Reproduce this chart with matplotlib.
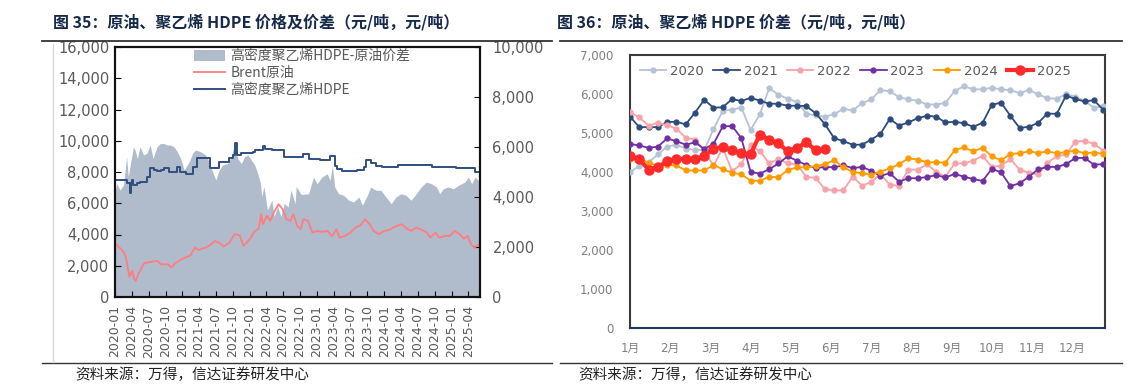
import numpy as np
import pandas as pd
import matplotlib
matplotlib.use('Agg')
import matplotlib.pyplot as plt
import matplotlib.dates as mdates
from matplotlib.patches import Patch
from matplotlib.lines import Line2D
from matplotlib.ticker import FuncFormatter

plt.rcParams['font.family'] = ['DejaVu Sans', 'Noto Sans CJK SC']
plt.rcParams['axes.unicode_minus'] = False
CJK = ['Noto Sans CJK SC', 'DejaVu Sans']

# ---------------- 图35 data (元/吨) ----------------
hdpe_dates = ['2020-01-01', '2020-02-25', '2020-03-04', '2020-03-22', '2020-03-28', '2020-04-04',
              '2020-04-10', '2020-04-28', '2020-05-16', '2020-06-22', '2020-07-10', '2020-07-28',
              '2020-08-16', '2020-09-04', '2020-09-22', '2020-10-19', '2020-12-01', '2020-12-19',
              '2021-01-19', '2021-02-19', '2021-03-01', '2021-03-22', '2021-06-01', '2021-07-19',
              '2021-09-13', '2021-10-01', '2021-10-13', '2021-10-25', '2021-11-16', '2022-01-16',
              '2022-02-01', '2022-03-13', '2022-03-22', '2022-05-01', '2022-07-07', '2022-10-19',
              '2022-11-16', '2023-01-19', '2023-03-13', '2023-04-07', '2023-04-19', '2023-05-16',
              '2023-08-07', '2023-09-13', '2023-09-22', '2023-10-19', '2023-11-16', '2023-12-22',
              '2024-03-13', '2024-09-13', '2025-01-25', '2025-05-07', '2025-06-03']
hdpe_vals = [7490, 7490, 7280, 6640, 7280, 7500,
             7170, 7280, 7380, 7700, 8230, 8130,
             8080, 8130, 8230, 8020, 8300, 8020,
             7870, 7900, 8340, 8870, 8230, 8660,
             8870, 9100, 9830, 9090, 9230, 9300,
             9400, 9660, 9450, 9400, 8950, 9130,
             8860, 8750, 9000, 8370, 8220, 8050,
             8150, 8320, 8750, 8600, 8370, 8320,
             8430, 8330, 8280, 7980, 7940]

brent_dates = ['2020-01-01', '2020-01-16', '2020-02-04', '2020-02-19', '2020-03-01', '2020-03-10',
               '2020-03-19', '2020-04-04', '2020-04-13', '2020-04-22', '2020-05-10', '2020-05-25',
               '2020-06-07', '2020-07-10', '2020-08-19', '2020-09-07', '2020-10-16', '2020-11-01',
               '2020-11-25', '2021-01-04', '2021-02-13', '2021-03-10', '2021-03-28', '2021-05-07',
               '2021-06-07', '2021-06-25', '2021-07-25', '2021-08-13', '2021-09-13', '2021-10-10',
               '2021-11-07', '2021-11-28', '2021-12-19', '2022-01-07', '2022-01-25', '2022-02-19',
               '2022-03-04', '2022-03-13', '2022-04-04', '2022-04-22', '2022-05-16', '2022-06-07',
               '2022-06-28', '2022-07-19', '2022-08-10', '2022-08-25', '2022-09-16', '2022-10-04',
               '2022-10-19', '2022-11-13', '2022-12-07', '2023-01-01', '2023-01-28', '2023-02-28',
               '2023-03-22', '2023-04-16', '2023-05-04', '2023-06-01', '2023-07-01', '2023-07-28',
               '2023-08-25', '2023-09-19', '2023-10-13', '2023-11-04', '2023-12-01', '2024-01-01',
               '2024-01-28', '2024-03-07', '2024-04-04', '2024-05-01', '2024-05-25', '2024-06-22',
               '2024-07-22', '2024-08-19', '2024-09-07', '2024-10-04', '2024-10-25', '2024-11-25',
               '2024-12-22', '2025-01-16', '2025-02-13', '2025-03-07', '2025-03-28', '2025-04-16',
               '2025-05-04', '2025-05-30']
brent_vals = [3480, 3270, 3050, 2840, 2520, 1880,
              1300, 1670, 1180, 1025, 1560, 1880,
              2160, 2240, 2310, 2090, 2090, 1880,
              2200, 2460, 2670, 3160, 3010, 3160,
              3380, 3590, 3420, 3230, 3480, 4020,
              3950, 3270, 3530, 3800, 4170, 4380,
              5300, 4660, 5190, 4870, 5510, 5940,
              5620, 4980, 4870, 5300, 4550, 4340,
              4980, 4870, 4120, 4230, 4170, 4230,
              3870, 4340, 3800, 3910, 4120, 4440,
              4590, 4980, 4660, 4230, 4020, 4230,
              4300, 4550, 4660, 4380, 4230, 4440,
              4300, 4120, 3800, 4120, 3800, 3910,
              3910, 4230, 4020, 3740, 3910, 3380,
              3160, 3380]

spread_dates = ['2020-01-01', '2020-01-10', '2020-01-28', '2020-02-16', '2020-03-04', '2020-03-13',
                '2020-03-25', '2020-04-10', '2020-04-19', '2020-05-01', '2020-05-16', '2020-06-04',
                '2020-06-22', '2020-07-10', '2020-07-25', '2020-08-16', '2020-09-04', '2020-09-22',
                '2020-10-10', '2020-10-28', '2020-11-16', '2020-12-04', '2020-12-22', '2021-01-10',
                '2021-02-07', '2021-02-25', '2021-03-13', '2021-04-10', '2021-05-07', '2021-05-25',
                '2021-06-13', '2021-07-01', '2021-07-19', '2021-08-07', '2021-09-04', '2021-09-22',
                '2021-10-10', '2021-10-28', '2021-11-16', '2021-12-04', '2021-12-22', '2022-01-10',
                '2022-01-28', '2022-02-13', '2022-02-28', '2022-03-07', '2022-03-19', '2022-04-07',
                '2022-05-01', '2022-05-13', '2022-06-01', '2022-06-19', '2022-07-07', '2022-07-28',
                '2022-08-13', '2022-09-04', '2022-09-10', '2022-10-07', '2022-11-16', '2022-12-13',
                '2023-01-01', '2023-01-28', '2023-02-25', '2023-03-13', '2023-03-25', '2023-04-07',
                '2023-04-28', '2023-05-25', '2023-06-22', '2023-07-19', '2023-08-16', '2023-09-04',
                '2023-10-01', '2023-10-19', '2023-11-16', '2023-12-13', '2024-01-10', '2024-02-07',
                '2024-03-04', '2024-04-01', '2024-04-28', '2024-05-25', '2024-06-22', '2024-07-19',
                '2024-08-16', '2024-09-13', '2024-10-10', '2024-10-28', '2024-11-16', '2024-12-13',
                '2025-01-10', '2025-02-07', '2025-03-13', '2025-04-01', '2025-04-19', '2025-05-07',
                '2025-06-03']
spread_vals = [4150, 4550, 4280, 4480, 5610, 4810,
               5340, 6010, 5880, 5540, 6010, 5680,
               5750, 6080, 5540, 6010, 6140, 6140,
               6080, 6080, 6010, 5810, 5540, 5080,
               5410, 5750, 5880, 5810, 5680, 5410,
               5010, 4680, 5080, 5280, 5340, 5610,
               6080, 5540, 5340, 5610, 5680, 5470,
               5280, 4950, 4550, 4020, 4420, 3480,
               3880, 3220, 3620, 3220, 3750, 3600,
               4280, 3730, 4420, 4100, 4130, 4800,
               4530, 4800, 4930, 4670, 5270, 4400,
               4130, 4070, 3870, 3800, 4000, 3670,
               4070, 4400, 4270, 4270, 4000, 3730,
               4000, 4130, 4070, 3870, 4130, 4400,
               4600, 4530, 4400, 4130, 4330, 4400,
               4330, 4470, 4600, 4800, 4530, 4800,
               4600]

# ---------------- 图36 data: weekly spread by year ----------------
years = ['2020', '2021', '2022', '2023', '2024', '2025']
spread_2020 = [4000, 4150, 4250, 4450, 4650, 4700, 4600, 4570, 4560, 5100, 5570, 5600, 5650,
               5080, 5480, 6150, 5980, 5880, 5800, 5500, 5450, 5420, 5480, 5620, 5580, 5760,
               5860, 6100, 6070, 5920, 5860, 5830, 5730, 5730, 5770, 6080, 6200, 6120, 6120,
               6160, 6120, 6100, 6020, 6100, 5990, 5890, 5880, 6000, 5930, 5820, 5650, 5680]
spread_2021 = [5420, 5150, 5150, 5150, 5280, 5290, 5220, 5520, 5850, 5650, 5660, 5870, 5820,
               5900, 5830, 5750, 5750, 5700, 5700, 5690, 5510, 5230, 4870, 4790, 4700, 4700,
               4830, 4980, 5360, 5190, 5270, 5380, 5440, 5420, 5270, 5290, 5250, 5160, 5260,
               5720, 5780, 5440, 5130, 5160, 5260, 5500, 5490, 5960, 5870, 5810, 5840, 5600]
spread_2022 = [5530, 5400, 5190, 5260, 5200, 5110, 4880, 4830, 4560, 4150, 4620, 4020, 4200,
               4680, 4540, 4220, 4330, 4220, 4200, 3870, 3850, 3560, 3530, 3530, 3880, 3650,
               3740, 3950, 3670, 3650, 4060, 4060, 4200, 4000, 3880, 4220, 4220, 4290, 4420,
               4130, 4160, 4330, 4060, 3980, 3940, 4240, 4400, 4450, 4780, 4800, 4720, 4550]
spread_2023 = [4720, 4680, 4620, 4650, 4860, 4790, 4700, 4760, 4590, 4720, 5170, 5180, 4870,
               4000, 3960, 4070, 4220, 4400, 4290, 4180, 4100, 4130, 4120, 4170, 4100, 4130,
               4030, 3900, 3970, 3750, 3840, 3840, 3870, 3920, 3860, 3950, 3880, 3820, 3770,
               4080, 3990, 3640, 3710, 3880, 4070, 4130, 4130, 4200, 4360, 4360, 4190, 4200]
spread_2024 = [4330, 4360, 4230, 4160, 4180, 4170, 4040, 4040, 4040, 4180, 4070, 3980, 3940,
               3780, 3770, 3880, 3860, 4050, 4120, 4120, 4150, 4200, 4300, 4120, 4000, 3970,
               3930, 4010, 4090, 4200, 4350, 4320, 4250, 4250, 4240, 4560, 4630, 4530, 4620,
               4400, 4300, 4460, 4480, 4530, 4490, 4530, 4480, 4510, 4550, 4480, 4500, 4470]
spread_2025 = [4400, 4330, 4060, 4130, 4270, 4340, 4330, 4330, 4400, 4600, 4640, 4560, 4480,
               4460, 4960, 4830, 4740, 4530, 4620, 4760, 4560, 4590]
month_labels = ['1月', '2月', '3月', '4月', '5月', '6月', '7月', '8月', '9月', '10月', '11月', '12月']

year_series = [spread_2020, spread_2021, spread_2022, spread_2023, spread_2024, spread_2025]
year_colors = ['#b6c2d6', '#2f4b7c', '#f8a3aa', '#7030a0', '#ff9a00', '#ff2b2b']

W, H = 1137, 386
fig = plt.figure(figsize=(W / 100, H / 100), dpi=100)
fig.patch.set_facecolor('white')

def px(x0, y0, x1, y1):
    return [x0 / W, 1 - y1 / H, (x1 - x0) / W, (y1 - y0) / H]

comma = FuncFormatter(lambda v, p: '{:,.0f}'.format(v))

# decorations: titles, rules, sources
title_kw = dict(fontsize=11.5, fontweight='bold', color='#17294a', family=CJK, va='center')
fig.text(53 / W, 1 - 22 / H, '图 35：原油、聚乙烯 HDPE 价格及价差（元/吨，元/吨）', **title_kw)
fig.text(557 / W, 1 - 22 / H, '图 36：原油、聚乙烯 HDPE 价差（元/吨，元/吨）', **title_kw)
for xa, xb in [(42, 552), (560, 1122)]:
    fig.add_artist(Line2D([xa / W, xb / W], [1 - 41 / H] * 2, color='#333333', lw=1.3))
    fig.add_artist(Line2D([xa / W, xb / W], [1 - 363 / H] * 2, color='#333333', lw=1.0))
fig.add_artist(Line2D([53 / W] * 2, [1 - 44 / H, 1 - 362 / H], color='#d9d9d9', lw=1.0))
src_kw = dict(fontsize=10.5, color='#222222', family=CJK, va='center')
fig.text(75 / W, 1 - 375 / H, '资料来源：万得，信达证券研发中心', **src_kw)
fig.text(578 / W, 1 - 375 / H, '资料来源：万得，信达证券研发中心', **src_kw)

# ---------------- 图35 ----------------
ax1 = fig.add_axes(px(115, 47, 480, 297))
ax1b = ax1.twinx()
ax1b.fill_between(pd.to_datetime(spread_dates), 0, spread_vals, color='#b0bbcc', lw=0)
ax1.step(pd.to_datetime(hdpe_dates), hdpe_vals, where='post', color='#2f4f7f', lw=1.4)
ax1.plot(pd.to_datetime(brent_dates), brent_vals, color='#ff7c80', lw=1.3)
ax1.set_zorder(ax1b.get_zorder() + 1)
ax1.patch.set_visible(False)

ax1.set_xlim(pd.Timestamp('2020-01-01'), pd.Timestamp('2025-06-03'))
ax1.set_ylim(0, 16000)
ax1b.set_ylim(0, 10000)
ax1.set_yticks(range(0, 16001, 2000))
ax1b.set_yticks(range(0, 10001, 2000))
ax1.yaxis.set_major_formatter(comma)
ax1b.yaxis.set_major_formatter(comma)
ax1.xaxis.set_major_locator(mdates.MonthLocator(bymonth=[1, 4, 7, 10]))
ax1.xaxis.set_major_formatter(mdates.DateFormatter('%Y-%m'))
ax1.tick_params(axis='x', direction='in', length=4, labelsize=9, labelcolor='#595959',
                labelrotation=90, pad=6)
ax1.tick_params(axis='y', direction='in', length=4, labelsize=10.5, labelcolor='#595959', pad=4)
ax1b.tick_params(axis='y', direction='in', length=4, labelsize=10.5, labelcolor='#595959', pad=9)
for a in (ax1, ax1b):
    for s in a.spines.values():
        s.set_color('#111111')
        s.set_linewidth(1.5)

handles = [Patch(facecolor='#b0bbcc', edgecolor='none'),
           Line2D([], [], color='#ff7c80', lw=1.3),
           Line2D([], [], color='#2f4f7f', lw=1.4)]
labels = ['高密度聚乙烯HDPE-原油价差', 'Brent原油', '高密度聚乙烯HDPE']
ax1.legend(handles, labels, loc='upper left', bbox_to_anchor=(0.19, 1.03), frameon=False,
           prop={'family': CJK, 'size': 10}, labelcolor='#595959', handlelength=2.2,
           handleheight=0.8, handletextpad=0.4, labelspacing=0.2, borderpad=0.2)

# ---------------- 图36 ----------------
ax2 = fig.add_axes(px(630, 55, 1105, 328))
for yr, vals, col in zip(years, year_series, year_colors):
    x = np.arange(len(vals))
    if yr == '2025':
        ax2.plot(x, vals, color=col, lw=3.0, marker='o', ms=6.5, label=yr, zorder=5)
    else:
        ax2.plot(x, vals, color=col, lw=1.3, marker='o', ms=3.5, label=yr, zorder=3)
ax2.set_xlim(0, 51.2)
ax2.set_ylim(0, 7000)
ax2.set_yticks(range(0, 7001, 1000))
ax2.yaxis.set_major_formatter(comma)
ax2.set_xticks(np.arange(12) * 52 / 12)
ax2.set_xticklabels(month_labels)
ax2.tick_params(axis='both', length=0, labelsize=8.5, labelcolor='#7f7f7f')
ax2.tick_params(axis='x', pad=10)
ax2.tick_params(axis='y', pad=12)
for s in ax2.spines.values():
    s.set_color('#3a3a3a')
    s.set_linewidth(1.5)
ax2.spines['bottom'].set_color('#1f3864')
ax2.legend(loc='upper left', bbox_to_anchor=(0.0, 1.0), ncol=6, frameon=False,
           fontsize=9.5, labelcolor='#595959', handlelength=2.0, handletextpad=0.3,
           columnspacing=0.7, borderpad=0.25)

fig.savefig('out.png', dpi=100, facecolor='white')
